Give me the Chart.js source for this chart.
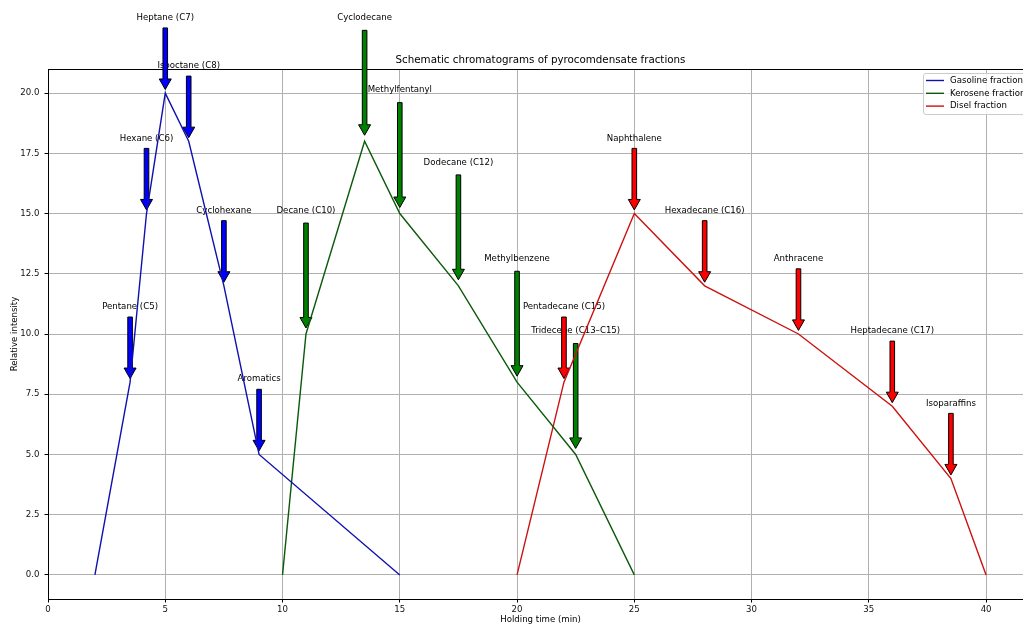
<!DOCTYPE html>
<html>
<head>
<meta charset="utf-8">
<title>Schematic chromatograms of pyrocomdensate fractions</title>
<script src="https://cdn.jsdelivr.net/npm/chart.js@4/dist/chart.umd.min.js"></script>
<style>
  html, body { margin: 0; padding: 0; overflow: hidden; background: #ffffff; }
  canvas { display: block; }
</style>
</head>
<body>
<canvas id="chart" width="1060" height="626"></canvas>
<script>
// Retention times (min) and relative intensities of each fraction
const gasolineX = [2, 3.5, 4.2, 5, 6, 7.5, 9, 15];
const gasolineY = [0, 8, 15, 20, 18, 12, 5, 0];
const keroseneX = [10, 11, 13.5, 15, 17.5, 20, 22.5, 25];
const keroseneY = [0, 10, 18, 15, 12, 8, 5, 0];
const diselX = [20, 22, 25, 28, 32, 36, 38.5, 40];
const diselY = [0, 8, 15, 12, 10, 7, 4, 0];

const seriesNames = ['Gasoline fraction', 'Kerosene fraction', 'Disel fraction'];

// Peak labels: compound, retention time, intensity, label lift, series index
const peakNames = [
  'Pentane (C5)', 'Hexane (C6)', 'Heptane (C7)', 'Isooctane (C8)', 'Cyclohexane', 'Aromatics',
  'Decane (C10)', 'Cyclodecane', 'Methylfentanyl', 'Dodecane (C12)', 'Methylbenzene', 'Tridecene (C13\u2013C15)',
  'Pentadecane (C15)', 'Naphthalene', 'Hexadecane (C16)', 'Anthracene', 'Heptadecane (C17)', 'Isoparaffins'
];
const peakX = [3.5, 4.2, 5, 6, 7.5, 9, 11, 13.5, 15, 17.5, 20, 22.5, 22, 25, 28, 32, 36, 38.5];
const peakY = [8, 15, 20, 18, 12, 5, 10, 18, 15, 12, 8, 5, 8, 15, 12, 10, 7, 4];
const peakLift = [3, 3, 3, 3, 3, 3, 5, 5, 5, 5, 5, 5, 3, 3, 3, 3, 3, 3];
const peakSeries = [0, 0, 0, 0, 0, 0, 1, 1, 1, 1, 1, 1, 2, 2, 2, 2, 2, 2];

// Axis ticks
const xTicks = [0, 5, 10, 15, 20, 25, 30, 35, 40];
const yTicks = [0, 2.5, 5, 7.5, 10, 12.5, 15, 17.5, 20];

const FONT = '"DejaVu Sans", "Liberation Sans", sans-serif';
const lineColors = ['#1010b0', '#0b5a0b', '#cc1111'];
const arrowColors = ['#0000ff', '#008000', '#ff0000'];

function toPoints(xs, ys) {
  return xs.map((x, i) => ({ x: x, y: ys[i] }));
}

// Arrows pointing at each identified peak, with the compound name above
const peakLabels = {
  id: 'peakLabels',
  beforeDatasetsDraw(chart) {
    const ctx = chart.ctx;
    const xs = chart.scales.x, ys = chart.scales.y;
    const area = chart.chartArea;
    ctx.save();
    // top and right frame lines
    ctx.strokeStyle = '#000000';
    ctx.lineWidth = 1;
    ctx.beginPath();
    ctx.moveTo(area.left, area.top + 0.5);
    ctx.lineTo(area.right, area.top + 0.5);
    ctx.moveTo(area.right + 0.5, area.top);
    ctx.lineTo(area.right + 0.5, area.bottom);
    ctx.stroke();

    const geo = peakNames.map((name, i) => {
      const px = xs.getPixelForValue(peakX[i]);
      const py = ys.getPixelForValue(peakY[i]);
      const ly = ys.getPixelForValue(peakY[i] + peakLift[i]);
      const len = py - ly;
      return { px, py, textY: ly - 3, start: ly - 3 + 6.5 + 0.05 * len, tip: py - 0.05 * len };
    });

    ctx.font = '8.6px ' + FONT;
    ctx.fillStyle = '#000000';
    ctx.textAlign = 'center';
    ctx.textBaseline = 'middle';
    peakNames.forEach((name, i) => {
      ctx.fillText(name, geo[i].px, geo[i].textY);
    });

    const shaft = 2.3, head = 6, headLen = 10.5;
    geo.forEach((g, i) => {
      ctx.beginPath();
      ctx.moveTo(g.px - shaft, g.start);
      ctx.lineTo(g.px + shaft, g.start);
      ctx.lineTo(g.px + shaft, g.tip - headLen);
      ctx.lineTo(g.px + head, g.tip - headLen);
      ctx.lineTo(g.px, g.tip);
      ctx.lineTo(g.px - head, g.tip - headLen);
      ctx.lineTo(g.px - shaft, g.tip - headLen);
      ctx.closePath();
      ctx.fillStyle = arrowColors[peakSeries[i]];
      ctx.fill();
      ctx.strokeStyle = '#000000';
      ctx.lineWidth = 1;
      ctx.stroke();
    });
    ctx.restore();
  }
};

// Title, axis titles and the legend box
const decorations = {
  id: 'decorations',
  afterDraw(chart) {
    const ctx = chart.ctx;
    const area = chart.chartArea;
    const cx = (area.left + area.right) / 2;
    const cy = (area.top + area.bottom) / 2;
    ctx.save();
    ctx.fillStyle = '#000000';
    ctx.textAlign = 'center';
    ctx.textBaseline = 'middle';
    ctx.font = '10.3px ' + FONT;
    ctx.fillText('Schematic chromatograms of pyrocomdensate fractions', cx, area.top - 9);

    ctx.font = '8.6px ' + FONT;
    ctx.fillText('Holding time (min)', cx, area.bottom + 21);

    ctx.save();
    ctx.translate(15, cy);
    ctx.rotate(-Math.PI / 2);
    ctx.fillText('Relative intensity', 0, 0);
    ctx.restore();

    // legend
    const lx = area.right - 110, ly = area.top + 4, lw = 106, lh = 41;
    ctx.beginPath();
    if (ctx.roundRect) { ctx.roundRect(lx + 0.5, ly + 0.5, lw, lh, 2.5); }
    else { ctx.rect(lx + 0.5, ly + 0.5, lw, lh); }
    ctx.fillStyle = 'rgba(255,255,255,0.8)';
    ctx.fill();
    ctx.strokeStyle = '#cccccc';
    ctx.lineWidth = 1;
    ctx.stroke();

    ctx.textAlign = 'left';
    chart.data.datasets.forEach((ds, i) => {
      const y = ly + 7.5 + i * 12.8;
      ctx.beginPath();
      ctx.moveTo(lx + 3, y);
      ctx.lineTo(lx + 21, y);
      ctx.strokeStyle = ds.borderColor;
      ctx.lineWidth = 1.4;
      ctx.stroke();
      ctx.fillStyle = '#000000';
      ctx.fillText(ds.label, lx + 27, y);
    });
    ctx.restore();
  }
};

const lineStyle = { showLine: true, borderWidth: 1.4, pointRadius: 0, pointHoverRadius: 0, tension: 0, fill: false };

new Chart(document.getElementById('chart'), {
  type: 'scatter',
  data: {
    datasets: [
      Object.assign({ label: seriesNames[0], data: toPoints(gasolineX, gasolineY), borderColor: lineColors[0], backgroundColor: lineColors[0] }, lineStyle),
      Object.assign({ label: seriesNames[1], data: toPoints(keroseneX, keroseneY), borderColor: lineColors[1], backgroundColor: lineColors[1] }, lineStyle),
      Object.assign({ label: seriesNames[2], data: toPoints(diselX, diselY), borderColor: lineColors[2], backgroundColor: lineColors[2] }, lineStyle)
    ]
  },
  options: {
    responsive: false,
    animation: false,
    devicePixelRatio: 1,
    events: [],
    layout: { padding: { left: 0, right: 27, top: 69, bottom: 0 } },
    plugins: { legend: { display: false }, title: { display: false }, tooltip: { enabled: false } },
    scales: {
      x: {
        type: 'linear',
        min: 0,
        max: 42,
        afterBuildTicks(scale) { scale.ticks = xTicks.map(v => ({ value: v })); },
        afterFit(scale) { scale.height = 27; },
        grid: { color: '#b0b0b0', lineWidth: 1, tickLength: 3.5, tickColor: '#000000', drawTicks: true },
        border: { color: '#000000', width: 1 },
        ticks: {
          color: '#111111', font: { family: FONT, size: 8.6 }, padding: 2,
          autoSkip: false, maxRotation: 0,
          callback: v => String(v)
        }
      },
      y: {
        type: 'linear',
        min: -1,
        max: 21,
        afterBuildTicks(scale) { scale.ticks = yTicks.map(v => ({ value: v })); },
        afterFit(scale) { scale.width = 48; },
        grid: { color: '#b0b0b0', lineWidth: 1, tickLength: 3.5, tickColor: '#000000', drawTicks: true },
        border: { color: '#000000', width: 1 },
        ticks: {
          color: '#111111', font: { family: FONT, size: 8.6 }, padding: 5,
          autoSkip: false,
          callback: v => Number(v).toFixed(1)
        }
      }
    }
  },
  plugins: [peakLabels, decorations]
});
</script>
</body>
</html>
